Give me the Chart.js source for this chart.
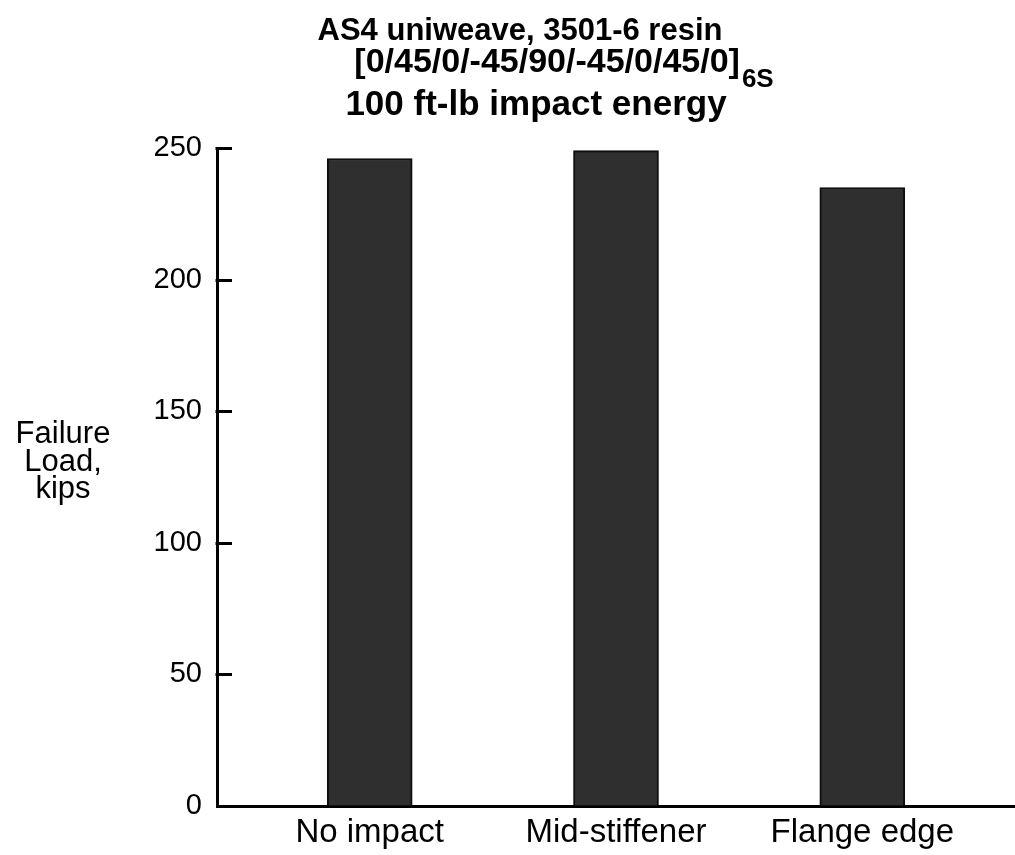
<!DOCTYPE html>
<html>
<head>
<meta charset="utf-8">
<title>Failure load</title>
<script src="https://cdn.jsdelivr.net/npm/chart.js@4.4.1/dist/chart.umd.min.js"></script>
<style>
  html, body { margin: 0; padding: 0; background: #fff; }
  #wrap { width: 1015px; height: 855px; position: relative; }
</style>
</head>
<body>
<div id="wrap"><canvas id="chart1"></canvas></div>
<script>
// failure load for each impact location, kips
let categories = ['No impact', 'Mid-stiffener', 'Flange edge']
let failureLoad = [246, 249, 235]
let yTicks = [0, 50, 100, 150, 200, 250]

let titleLines = ['AS4 uniweave, 3501-6 resin', '[0/45/0/-45/90/-45/0/45/0]', '100 ft-lb impact energy']
let layupSubscript = '6S'
let yTitleLines = ['Failure', 'Load,', 'kips']

const FONT = '"Liberation Sans", Arial, Helvetica, sans-serif'

window.onload = function() {

    // title block + unrotated y title, drawn straight onto the canvas
    let textPlugin = {
        id: 'textBlock',
        afterDraw(chart) {
            let ctx = chart.ctx
            ctx.save()
            ctx.fillStyle = '#000'
            ctx.textBaseline = 'alphabetic'

            // line 1
            ctx.textAlign = 'center'
            ctx.font = 'bold 31px ' + FONT
            ctx.fillText(titleLines[0], 520, 40)

            // line 2 with subscript
            ctx.font = 'bold 34px ' + FONT
            let mainW = ctx.measureText(titleLines[1]).width
            ctx.font = 'bold 26px ' + FONT
            let subW = ctx.measureText(layupSubscript).width
            let x0 = 564 - (mainW + subW + 2) / 2
            ctx.textAlign = 'left'
            ctx.font = 'bold 34px ' + FONT
            ctx.fillText(titleLines[1], x0, 72)
            ctx.font = 'bold 26px ' + FONT
            ctx.fillText(layupSubscript, x0 + mainW + 2, 87)

            // line 3
            ctx.textAlign = 'center'
            ctx.font = 'bold 35px ' + FONT
            ctx.fillText(titleLines[2], 536, 115)

            // y axis title
            ctx.font = '31px ' + FONT
            let baselines = [443, 471, 498]
            yTitleLines.forEach((t, i) => ctx.fillText(t, 63, baselines[i]))

            // short tick marks pointing into the plot
            let y = chart.scales.y
            ctx.strokeStyle = '#000'
            ctx.lineWidth = 3
            ctx.beginPath()
            yTicks.forEach(v => {
                if (v === 0) return
                let py = Math.round(y.getPixelForValue(v)) + 0.5
                ctx.moveTo(y.right - 1.5, py)
                ctx.lineTo(y.right + 15, py)
            })
            ctx.stroke()
            ctx.restore()
        }
    }

    let canvas1 = document.getElementById('chart1')

    let chart = new Chart(canvas1, {
        type: 'bar',
        data: {
            datasets: [{
                data: failureLoad.map((v, i) => ({ x: i, y: v })),
                backgroundColor: '#2f2f2f',
                borderColor: '#0d0d0d',
                borderWidth: 2,
                barThickness: 85
            }]
        },
        options: {
            responsive: true,
            maintainAspectRatio: false,
            animation: false,
            layout: { padding: { top: 148, left: 0, right: 0, bottom: 0 } },
            plugins: {
                legend: { display: false },
                tooltip: { enabled: false },
                title: { display: false }
            },
            scales: {
                x: {
                    type: 'linear',
                    offset: false,
                    min: -0.62,
                    max: 2.62,
                    afterBuildTicks: scale => {
                        scale.ticks = categories.map((c, i) => ({ value: i }))
                    },
                    afterFit: scale => { scale.height = 49 },
                    grid: { drawOnChartArea: false, drawTicks: false, offset: false },
                    border: { color: '#000', width: 3 },
                    ticks: {
                        autoSkip: false,
                        maxRotation: 0,
                        padding: 7,
                        color: '#000',
                        font: { family: FONT, size: 33 },
                        callback: v => categories[v]
                    }
                },
                y: {
                    min: 0,
                    max: 250,
                    afterBuildTicks: scale => {
                        scale.ticks = yTicks.map(v => ({ value: v }))
                    },
                    afterFit: scale => { scale.width = 217 },
                    grid: { drawOnChartArea: false, drawTicks: false },
                    border: { color: '#000', width: 3 },
                    ticks: {
                        padding: 15,
                        color: '#000',
                        font: { family: FONT, size: 29 }
                    }
                }
            }
        },
        plugins: [textPlugin]
    })
}
</script>
</body>
</html>
